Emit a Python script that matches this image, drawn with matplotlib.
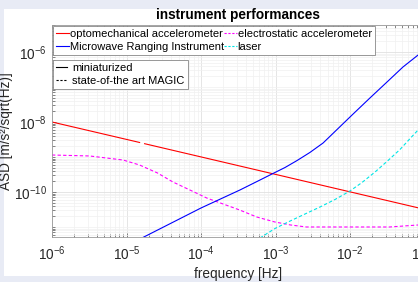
import numpy as np
import matplotlib
matplotlib.use("Agg")
import matplotlib.pyplot as plt
from matplotlib.patches import Rectangle
from matplotlib.lines import Line2D
from matplotlib.ticker import LogLocator, NullFormatter

plt.rcParams['font.family'] = ['Liberation Sans', 'DejaVu Sans']
plt.rcParams['mathtext.fontset'] = 'custom'
plt.rcParams['mathtext.rm'] = 'Liberation Sans'
plt.rcParams['mathtext.it'] = 'Liberation Sans'

# optomechanical accelerometer (red, solid)
f_opto = [1e-6, 1.5e-5, 1.6e-5, 1.75e-5, 1e-1]
asd_opto = [1e-8, 2.6e-9, np.nan, 2.4e-9, 3.2e-11]

# electrostatic accelerometer (magenta, dashed)
f_elec = [1e-6, 3.2e-6, 9e-6, 1.5e-5, 2.6e-5, 4.2e-5, 7.1e-5, 1.2e-4,
          3.3e-4, 5.6e-4, 9.8e-4, 1.6e-3, 2.6e-3, 7.3e-3, 3.4e-2, 8.2e-2, 1e-1]
asd_elec = [1.14e-9, 1.07e-9, 8.2e-10, 5.9e-10, 3.5e-10, 1.93e-10, 1.14e-10, 6.7e-11,
            3.06e-11, 1.93e-11, 1.39e-11, 1.14e-11, 1.0e-11, 1.0e-11, 1.0e-11, 1.14e-11, 1.25e-11]

# Microwave Ranging Instrument (blue, solid)
f_mri = [1.61e-5, 1e-4, 3.33e-4, 6.19e-4, 9.25e-4, 1.34e-3, 1.95e-3, 2.9e-3, 4.35e-3,
         6.7e-3, 1.1e-2, 1.85e-2, 3.14e-2, 5.14e-2, 8.2e-2, 1e-1]
asd_mri = [4.85e-12, 3.49e-11, 1.14e-10, 2.2e-10, 3.38e-10, 5.0e-10, 7.94e-10, 1.35e-9, 2.51e-9,
           6.1e-9, 1.69e-8, 4.85e-8, 1.39e-7, 3.73e-7, 8.2e-7, 1.14e-6]

# laser (cyan, dashed)
f_laser = [6.19e-4, 9.84e-4, 1.57e-3, 2.49e-3, 3.96e-3, 6.29e-3, 1e-2, 1.45e-2,
           2.17e-2, 3.24e-2, 4.69e-2, 6.79e-2, 8.2e-2, 1e-1]
asd_laser = [4.85e-12, 9.06e-12, 1.48e-11, 2.35e-11, 3.73e-11, 6.1e-11, 1.07e-10, 1.87e-10,
             3.73e-10, 7.94e-10, 1.64e-9, 3.85e-9, 5.9e-9, 8.77e-9]

W, H = 418, 282
fig = plt.figure(figsize=(W / 100, H / 100), dpi=100, facecolor='#e8ebf5')
fig.patches.append(Rectangle((4 / W, 6 / H), 1, 267 / H, transform=fig.transFigure,
                             facecolor='white', edgecolor='none', zorder=-10))

ax = fig.add_axes([52 / W, 45 / H, 372.5 / W, 212.5 / H])
ax.set_xscale('log')
ax.set_yscale('log')

ax.plot(f_opto, asd_opto, color='#ff0000', lw=0.8)
ax.plot(f_elec, asd_elec, color='#ff00ff', lw=0.8, ls=(0, (3, 2)))
ax.plot(f_mri, asd_mri, color='#0000ff', lw=0.8)
ax.plot(f_laser, asd_laser, color='#00e5e5', lw=0.8, ls=(0, (3, 2)))

ax.set_xlim(1e-6, 1e-1)
ax.set_ylim(10 ** -11.286, 10 ** -5.214)

ax.set_yticks([1e-10, 1e-8, 1e-6])
ax.yaxis.set_minor_locator(LogLocator(base=10, subs=np.arange(1, 10), numticks=20))
ax.yaxis.set_minor_formatter(NullFormatter())
ax.xaxis.set_minor_locator(LogLocator(base=10, subs=np.arange(2, 10), numticks=20))
ax.xaxis.set_minor_formatter(NullFormatter())

ax.tick_params(which='both', direction='in', top=True, right=True, colors='#555555',
               labelcolor='#262626', labelsize=9.8)
ax.tick_params(axis='x', which='major', pad=5)
ax.tick_params(which='major', length=3, width=0.5)
ax.tick_params(which='minor', length=2, width=0.5)
for s in ax.spines.values():
    s.set_color('#999999')
    s.set_linewidth(0.6)

ax.grid(True, which='major', color='#e0e0e0', lw=0.6)
ax.grid(True, which='minor', color='#f0f0f0', lw=0.5)
ax.set_axisbelow(True)

ax.set_xlabel('frequency [Hz]', fontsize=9.8, color='#262626', labelpad=3)
ax.set_ylabel('ASD [m/s²/sqrt(Hz)]', fontsize=9.8, color='#262626')
ax.yaxis.set_label_coords(-39 / 372.5, 0.5)
ax.set_title('instrument performances', fontsize=9.8, fontweight='bold', pad=4)

h_opto = Line2D([], [], color='#ff0000', lw=0.8)
h_elec = Line2D([], [], color='#ff00ff', lw=0.8, ls=(0, (2, 1.5)))
h_mri = Line2D([], [], color='#0000ff', lw=0.8)
h_laser = Line2D([], [], color='#00e5e5', lw=0.8, ls=(0, (2, 1.5)))
leg1 = ax.legend([h_opto, h_mri, h_elec, h_laser],
                 ['optomechanical accelerometer', 'Microwave Ranging Instrument',
                  'electrostatic accelerometer', 'laser'],
                 ncol=2, loc='upper left', bbox_to_anchor=(53 / W, 1 - 26 / H),
                 bbox_transform=fig.transFigure, fontsize=8, handlelength=1.1,
                 handletextpad=0.1, columnspacing=0.05, labelspacing=0.2,
                 borderpad=0.3, borderaxespad=0, fancybox=False, framealpha=1,
                 edgecolor='#888888')
leg1.get_frame().set_linewidth(0.6)
ax.add_artist(leg1)

h_mini = Line2D([], [], color='black', lw=0.8)
h_magic = Line2D([], [], color='black', lw=0.8, ls=(0, (2, 1.5)))
leg2 = ax.legend([h_mini, h_magic], ['miniaturized', 'state-of-the art MAGIC'],
                 loc='upper left', bbox_to_anchor=(53 / W, 1 - 60 / H),
                 bbox_transform=fig.transFigure, fontsize=8, handlelength=1.0,
                 handletextpad=0.4, labelspacing=0.25, borderpad=0.3,
                 borderaxespad=0, fancybox=False, framealpha=1, edgecolor='#888888')
leg2.get_frame().set_linewidth(0.6)

fig.savefig('out.png', dpi=100, facecolor=fig.get_facecolor())
